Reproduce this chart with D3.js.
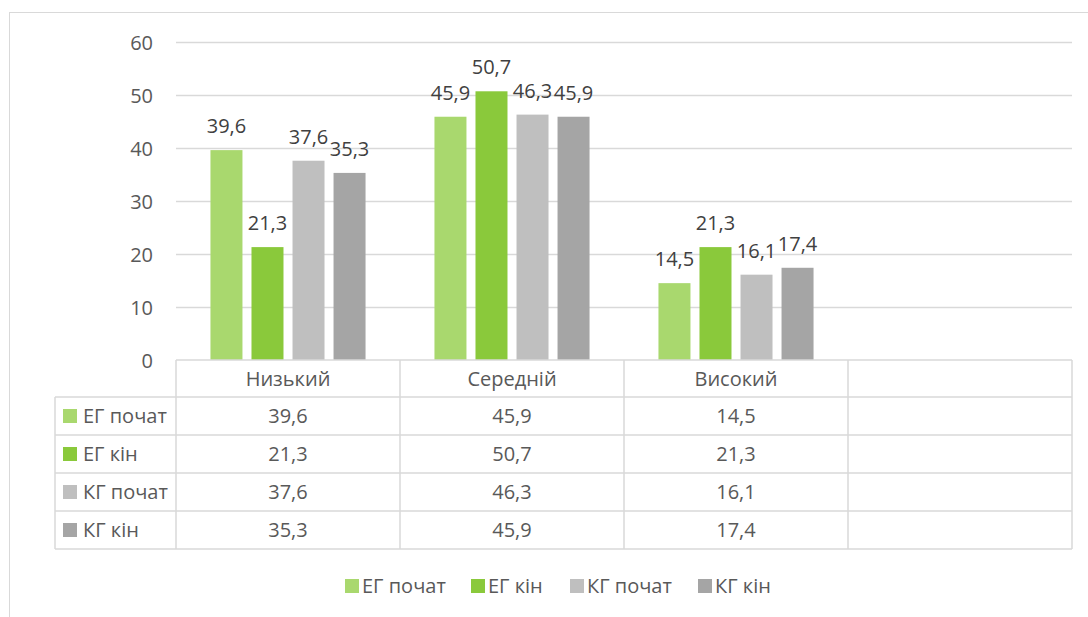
<!DOCTYPE html>
<html><head><meta charset="utf-8">
<script src="https://cdn.jsdelivr.net/npm/d3@7/dist/d3.min.js"></script>
<style>body{margin:0;background:#fff}svg{display:block}</style>
</head><body><svg id="c" width="1088" height="617"></svg>
<script>
const categories = ["Низький", "Середній", "Високий", ""];
const seriesNames = ["ЕГ почат", "ЕГ кін", "КГ почат", "КГ кін"];
const egStart = [39.6, 45.9, 14.5];
const egEnd = [21.3, 50.7, 21.3];
const kgStart = [37.6, 46.3, 16.1];
const kgEnd = [35.3, 45.9, 17.4];
const yTicks = [0, 10, 20, 30, 40, 50, 60];
const colors = ["#A9D86E", "#8AC93B", "#BFBFBF", "#A5A5A5"];
const series = [egStart, egEnd, kgStart, kgEnd];

const svg = d3.select("#c");
const font = "'Open Sans', sans-serif";
const fs = 20;
const grid = "#D9D9D9";
const fmt = v => String(v).replace(".", ",");

// outer border
svg.append("rect").attr("x", 9.5).attr("y", 12.5).attr("width", 1100).attr("height", 700)
  .attr("fill", "none").attr("stroke", grid);

const x0 = 176, x1 = 1072, yTop = 42, yBot = 360;
const x = d3.scaleBand().domain(categories).range([x0, x1]);
const y = d3.scaleLinear().domain([0, 60]).range([yBot, yTop]);
const xi = d3.scaleBand().domain(d3.range(4)).range([0, x.bandwidth()]).paddingInner(0.22).paddingOuter(0.84);

// gridlines
svg.append("g").selectAll("line").data(yTicks.filter(t => t > 0)).join("line")
  .attr("x1", x0).attr("x2", x1).attr("y1", d => y(d) + 0.5).attr("y2", d => y(d) + 0.5)
  .attr("stroke", grid).attr("stroke-width", 1.5);

// y axis labels
const yAxis = d3.axisLeft(y).tickValues(yTicks).tickSize(0).tickPadding(0);
const ga = svg.append("g").attr("transform", `translate(153,0)`).call(yAxis);
ga.select(".domain").remove();
ga.selectAll("text").attr("font-family", font).attr("font-size", fs).attr("fill", "#595959").attr("dy", "0.36em");

// bars
series.forEach((s, si) => {
  svg.append("g").selectAll("rect").data(s).join("rect")
    .attr("x", (d, i) => x(categories[i]) + xi(si))
    .attr("width", xi.bandwidth())
    .attr("y", d => y(d)).attr("height", d => yBot - y(d))
    .attr("fill", colors[si]);
  svg.append("g").selectAll("text").data(s).join("text")
    .attr("x", (d, i) => x(categories[i]) + xi(si) + xi.bandwidth() / 2)
    .attr("y", d => y(d) - 17)
    .attr("text-anchor", "middle").attr("font-family", font).attr("font-size", fs)
    .attr("fill", "#404040").text(d => fmt(d));
});

// data table
const rowH = 38, hdrTop = 360, hdrBot = 397, tblLeft = 55;
const tg = svg.append("g").attr("stroke", grid).attr("stroke-width", 1.5).attr("fill", "none");
tg.append("line").attr("x1", x0).attr("x2", x1).attr("y1", hdrTop).attr("y2", hdrTop);
const rowYs = d3.range(5).map(i => hdrBot + i * rowH);
rowYs.forEach(ry => tg.append("line").attr("x1", tblLeft).attr("x2", x1).attr("y1", ry).attr("y2", ry));
categories.forEach(c => tg.append("line").attr("x1", x(c)).attr("x2", x(c)).attr("y1", hdrTop).attr("y2", rowYs[4]));
tg.append("line").attr("x1", x1).attr("x2", x1).attr("y1", hdrTop).attr("y2", rowYs[4]);
tg.append("line").attr("x1", tblLeft).attr("x2", tblLeft).attr("y1", hdrBot).attr("y2", rowYs[4]);

svg.append("g").selectAll("text").data(categories).join("text")
  .attr("x", d => x(d) + x.bandwidth() / 2).attr("y", (hdrTop + hdrBot) / 2)
  .attr("dy", "0.36em").attr("text-anchor", "middle").attr("font-family", font).attr("font-size", fs)
  .attr("fill", "#595959").text(d => d);

series.forEach((s, si) => {
  const cy = hdrBot + si * rowH + rowH / 2;
  svg.append("rect").attr("x", 63).attr("y", cy - 7).attr("width", 14).attr("height", 14).attr("fill", colors[si]);
  svg.append("text").attr("x", 83).attr("y", cy).attr("dy", "0.36em").attr("font-family", font)
    .attr("font-size", fs).attr("fill", "#595959").text(seriesNames[si]);
  svg.append("g").selectAll("text").data(s).join("text")
    .attr("x", (d, i) => x(categories[i]) + x.bandwidth() / 2).attr("y", cy).attr("dy", "0.36em")
    .attr("text-anchor", "middle").attr("font-family", font).attr("font-size", fs)
    .attr("fill", "#595959").text(d => fmt(d));
});

// legend
const legX = [345, 471, 570, 698];
const lg = svg.append("g");
seriesNames.forEach((n, i) => {
  lg.append("rect").attr("x", legX[i]).attr("y", 579).attr("width", 14).attr("height", 14).attr("fill", colors[i]);
  lg.append("text").attr("x", legX[i] + 17).attr("y", 586).attr("dy", "0.36em").attr("font-family", font)
    .attr("font-size", fs).attr("fill", "#595959").text(n);
});
</script></body></html>
